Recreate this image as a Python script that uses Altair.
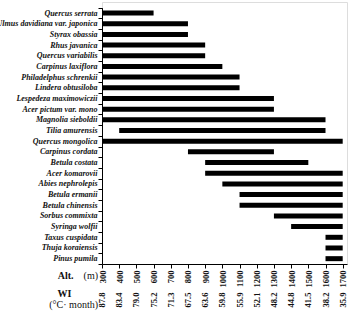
import altair as alt
import pandas as pd

# Altitudinal ranges of tree species
species = [
    "Quercus serrata", "Ulmus davidiana var. japonica", "Styrax obassia",
    "Rhus javanica", "Quercus variabilis", "Carpinus laxiflora",
    "Philadelphus schrenkii", "Lindera obtusiloba", "Lespedeza maximowiczii",
    "Acer pictum var. mono", "Magnolia sieboldii", "Tilia amurensis",
    "Quercus mongolica", "Carpinus cordata", "Betula costata",
    "Acer komarovii", "Abies nephrolepis", "Betula ermanii",
    "Betula chinensis", "Sorbus commixta", "Syringa wolfii",
    "Taxus cuspidata", "Thuja koraiensis", "Pinus pumila",
]
alt_low = [300, 300, 300, 300, 300, 300, 300, 300, 300, 300, 300, 400,
           300, 800, 900, 900, 1000, 1100, 1100, 1300, 1400, 1600, 1600, 1600]
alt_high = [600, 800, 800, 900, 900, 1000, 1100, 1100, 1300, 1300, 1600, 1600,
            1700, 1300, 1500, 1700, 1700, 1700, 1700, 1700, 1700, 1700, 1700, 1700]

# Altitude ticks and the matching warmth index
alt_ticks = [300, 400, 500, 600, 700, 800, 900, 1000, 1100, 1200, 1300,
             1400, 1500, 1600, 1700]
wi_values = ["87.8", "83.4", "79.0", "75.2", "71.3", "67.5", "63.6", "59.8",
             "55.9", "52.1", "48.2", "44.8", "41.5", "38.2", "35.9"]

ranges = pd.DataFrame({"species": species, "low": alt_low, "high": alt_high})
wi = pd.DataFrame({"low": alt_ticks, "wi": wi_values})

SERIF = "Liberation Serif"

x_scale = alt.Scale(domain=[300, 1725], nice=False, zero=False)
x_axis = alt.Axis(
    values=alt_ticks, title=None, grid=False, format="d",
    labelAngle=270, labelFont=SERIF, labelFontSize=8.5,
    labelFontWeight="bold", labelColor="#111",
    tickColor="black", tickSize=4, domainColor="black",
    labelPadding=2, labelFlush=False, labelOverlap=False,
)

bars = alt.Chart(ranges).mark_bar(color="black", size=5).encode(
    x=alt.X("low:Q", scale=x_scale, axis=x_axis),
    x2="high:Q",
    y=alt.Y("species:N", sort=species, scale=alt.Scale(
        range=[5.7, 262], paddingInner=0, paddingOuter=0
    ), axis=alt.Axis(
        title=None, grid=False, tickBand="extent",
        labelFont=SERIF, labelFontSize=8, labelFontStyle="italic",
        labelFontWeight="bold", labelColor="#111",
        tickColor="black", tickSize=4, domainColor="black",
        labelPadding=1, labelLimit=200,
    )),
)

# Warmth index row under the altitude labels
wi_text = alt.Chart(wi).mark_text(
    angle=270, align="center", baseline="middle",
    font=SERIF, fontSize=8.5, fontWeight="bold", color="#111",
).encode(
    x=alt.X("low:Q", scale=x_scale, axis=x_axis),
    y=alt.value(298),
    text="wi:N",
)

titles = pd.DataFrame({
    "label": ["Alt.", "(m)", "WI", "(°C· month)"],
    "px": [-28.5, -4, -30.5, -4],
    "py": [274, 274, 292, 303],
    "weight": ["bold", "normal", "bold", "normal"],
})

title_bold = alt.Chart(titles[titles.weight == "bold"]).mark_text(
    align="right", baseline="middle", font=SERIF, fontSize=10,
    fontWeight="bold", color="#111",
).encode(
    x=alt.X("px:Q", scale=None),
    y=alt.Y("py:Q", scale=None),
    text="label:N",
)

title_plain = alt.Chart(titles[titles.weight == "normal"]).mark_text(
    align="right", baseline="middle", font=SERIF, fontSize=10, color="#111",
).encode(
    x=alt.X("px:Q", scale=None),
    y=alt.Y("py:Q", scale=None),
    text="label:N",
)

chart = alt.layer(bars, wi_text, title_bold, title_plain).properties(
    width=245, height=262,
    padding={"left": 102, "top": 2, "right": 5, "bottom": 47},
    autosize=alt.AutoSizeParams(type="none"),
).configure_view(stroke="#888", strokeWidth=1).configure(background="white")

chart.save("out.html", embed_options={"renderer": "svg", "actions": False})
